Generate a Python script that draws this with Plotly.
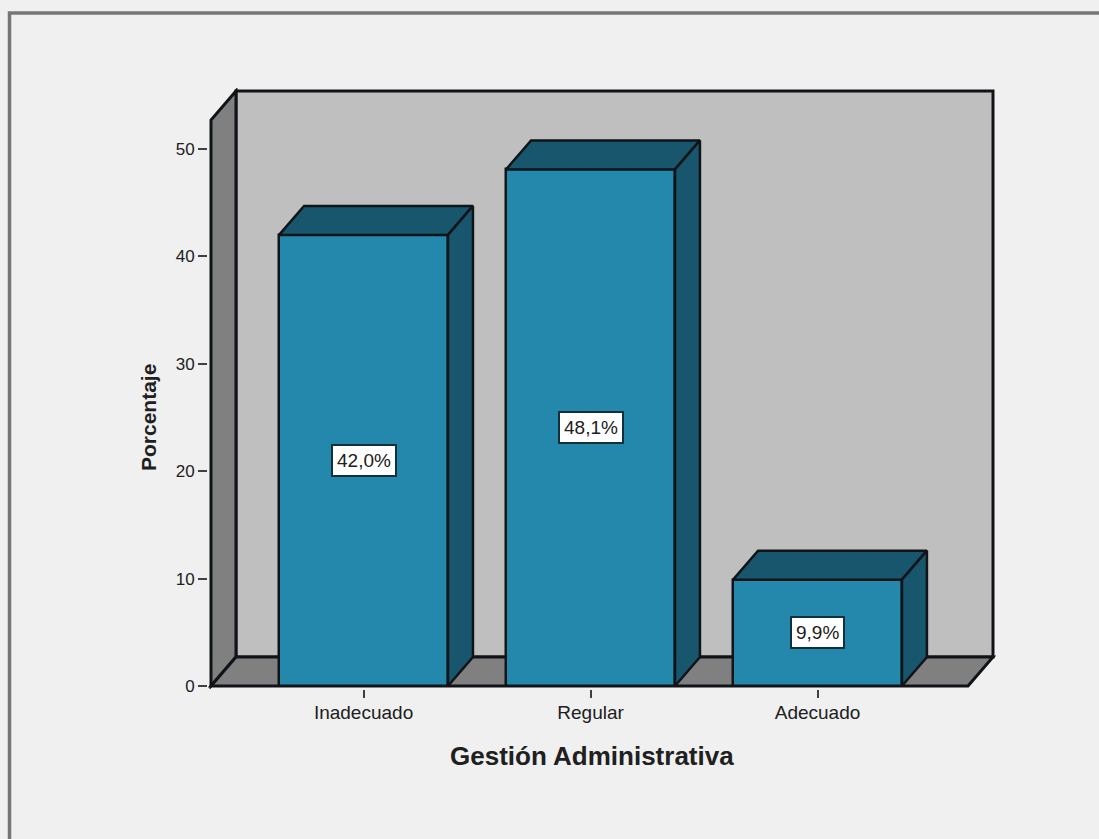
import plotly.graph_objects as go

# Chart data
categories = ["Inadecuado", "Regular", "Adecuado"]
percentages = [42.0, 48.1, 9.9]
y_ticks = [0, 10, 20, 30, 40, 50]

# Colours
PAGE = "#f0f0f0"
WALL = "#bfbfbf"
SHADE = "#808080"
FRONT = "#2488ad"
DARK_FACE = "#17566c"
EDGE = "#101418"
FONT = "Liberation Sans, Arial, sans-serif"

# Extents of the box and the oblique offset of the pseudo-3D view, in data units
X_MIN, X_MAX = -0.672, 2.773
Y_MAX = 55.4
DX, DY = 0.110, 2.70
BAR_W = 0.744
WALL_TOP = Y_MAX
FRONT_RIGHT = X_MAX - DX

# The axes run a little past the box so its outlines are not clipped
PAD_PX = 3
PX_PER_X, PX_PER_Y = 227, 10.74
WIDTH, HEIGHT = 1099, 839
M_L, M_R, M_T, M_B = 208, 103, 88, 150
PLOT_W = WIDTH - M_L - M_R
PLOT_H = HEIGHT - M_T - M_B


def paper_x(px):
    return (px - M_L) / PLOT_W


def paper_y(py):
    return (HEIGHT - M_B - py) / PLOT_H


fig = go.Figure()


def quad(xs, ys, fill):
    path = "M " + " L ".join(f"{x},{y}" for x, y in zip(xs, ys)) + " Z"
    return dict(type="path", path=path, xref="x", yref="y", layer="below",
                fillcolor=fill, line=dict(color=EDGE, width=3))


# Back wall, left wall and floor sit underneath the bars
shapes = [
    quad([X_MIN + DX, X_MAX, X_MAX, X_MIN + DX], [DY, DY, WALL_TOP, WALL_TOP], WALL),
    quad([X_MIN, X_MIN + DX, X_MIN + DX, X_MIN],
         [0, DY, WALL_TOP, WALL_TOP - DY], SHADE),
    quad([X_MIN, X_MIN + DX, X_MAX, FRONT_RIGHT], [0, DY, DY, 0], SHADE),
]

# Outer frame of the chart window (left and top edges only)
frame_path = (f"M {paper_x(9.5)},{paper_y(845)} L {paper_x(9.5)},{paper_y(13)} "
              f"L {paper_x(1105)},{paper_y(13)}")
shapes.append(dict(type="path", xref="paper", yref="paper", path=frame_path,
                   line=dict(color="#767676", width=3.5)))

# Front faces
fig.add_trace(go.Bar(
    x=list(range(len(categories))), y=percentages, width=BAR_W,
    marker=dict(color=FRONT, line=dict(color=EDGE, width=2.5)),
    hoverinfo="skip", showlegend=False,
))

# Top and side faces follow each bar's height
for i, v in enumerate(percentages):
    left, right = i - BAR_W / 2, i + BAR_W / 2
    fig.add_trace(go.Scatter(
        x=[left, left + DX, right + DX, right, left],
        y=[v, v + DY, v + DY, v, v],
        mode="lines", fill="toself", fillcolor=DARK_FACE,
        line=dict(color=EDGE, width=2.5), cliponaxis=False,
        hoverinfo="skip", showlegend=False,
    ))
    fig.add_trace(go.Scatter(
        x=[right, right + DX, right + DX, right, right],
        y=[0, DY, v + DY, v, 0],
        mode="lines", fill="toself", fillcolor=DARK_FACE,
        line=dict(color=EDGE, width=2.5), cliponaxis=False,
        hoverinfo="skip", showlegend=False,
    ))

# Value labels at mid-height of each bar
annotations = [
    dict(x=i, y=v / 2, xref="x", yref="y", showarrow=False,
         text=f"{v:.1f}%".replace(".", ","),
         font=dict(family=FONT, size=19, color="#202020"),
         bgcolor="#ffffff", bordercolor="#12303c", borderwidth=2, borderpad=4)
    for i, v in enumerate(percentages)
]

# Axis titles
annotations.append(dict(
    text="Gestión Administrativa", xref="paper", yref="paper",
    x=paper_x(591.5), y=paper_y(756), showarrow=False,
    xanchor="center", yanchor="middle",
    font=dict(family=FONT, size=26, color="#202020", weight="bold"),
))
annotations.append(dict(
    text="Porcentaje", xref="paper", yref="paper", textangle=-90,
    x=paper_x(148), y=paper_y(418), showarrow=False,
    xanchor="center", yanchor="middle",
    font=dict(family=FONT, size=21, color="#202020", weight="bold"),
))

fig.update_layout(
    width=WIDTH, height=HEIGHT,
    margin=dict(l=M_L, r=M_R, t=M_T, b=M_B, autoexpand=False),
    paper_bgcolor=PAGE, plot_bgcolor=PAGE,
    shapes=shapes, annotations=annotations, bargap=0,
    xaxis=dict(range=[X_MIN - PAD_PX / PX_PER_X, X_MAX + PAD_PX / PX_PER_X],
               tickmode="array",
               tickvals=list(range(len(categories))), ticktext=categories,
               ticks="outside", ticklen=8, tickwidth=2, tickcolor="#404040",
               ticklabelstandoff=-2,
               tickfont=dict(family=FONT, size=19, color="#202020"),
               showgrid=False, zeroline=False, showline=False),
    yaxis=dict(range=[-PAD_PX / PX_PER_Y, Y_MAX + PAD_PX / PX_PER_Y],
               tickmode="array", tickvals=y_ticks,
               ticks="outside", ticklen=9, tickwidth=2, tickcolor="#404040",
               tickfont=dict(family=FONT, size=17, color="#202020"),
               showgrid=False, zeroline=False, showline=False),
)

fig.write_html("out.html")
